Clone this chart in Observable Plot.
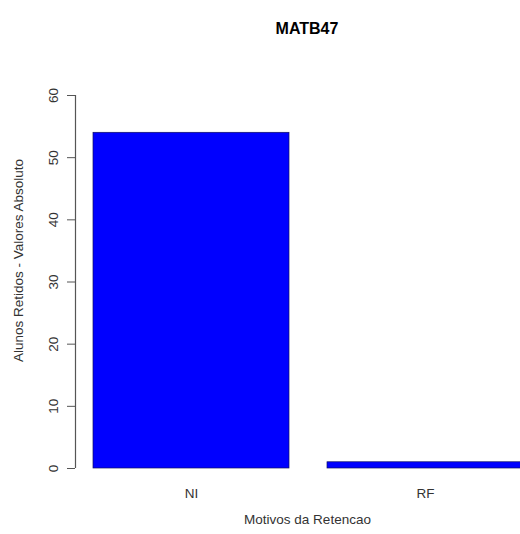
<!DOCTYPE html>
<html>
<head>
<meta charset="utf-8">
<script src="https://cdn.jsdelivr.net/npm/d3@7"></script>
<script src="https://cdn.jsdelivr.net/npm/@observablehq/plot@0.6"></script>
<style>
  html, body { margin: 0; padding: 0; background: #fff; overflow: hidden; }
</style>
</head>
<body>
<div id="chart"></div>
<script>
const title = "MATB47";
const categories = ["NI", "RF"];
const values = [54, 1];
const yTicks = [0, 10, 20, 30, 40, 50, 60];
const xLabel = "Motivos da Retencao";
const yLabel = "Alunos Retidos - Valores Absoluto";

const data = categories.map((c, i) => ({cat: c, value: values[i]}));
const font = "'Liberation Sans', Arial, Helvetica, sans-serif";

const W = 520, ML = 75, MR = 0;

const chart = Plot.plot({
  width: W,
  height: 534,
  marginTop: 95,
  marginBottom: 66,
  marginLeft: ML,
  marginRight: MR,
  style: {fontFamily: font, fontSize: "13.5px", color: "#333", background: "#fff", overflow: "hidden"},
  x: {type: "band", domain: categories, range: [93, 523], paddingInner: 0.1624, paddingOuter: 0, align: 0, axis: null},
  y: {domain: [0, 60], axis: null},
  marks: [
    Plot.barY(data, {x: "cat", y: "value", fill: "#0000ff", stroke: "#101060", strokeWidth: 0.7}),
    Plot.axisY({ticks: yTicks, tickSize: 8, tickPadding: 10, tickRotate: -90, stroke: "#555", fill: "#333", fontSize: 13.5, label: null}),
    Plot.axisX({tickSize: 0, tickPadding: 20, fill: "#333", fontSize: 13.5, label: null}),
    Plot.text([xLabel], {frameAnchor: "bottom", textAnchor: "middle", dx: 9.5, dy: 55, fill: "#333", fontSize: 13.5}),
    Plot.text([yLabel], {frameAnchor: "left", textAnchor: "middle", dx: -57, dy: -21.5, rotate: -90, fill: "#333", fontSize: 13.5}),
    Plot.text([title], {frameAnchor: "top", textAnchor: "middle", dx: 9, dy: -73, fill: "#000", fontSize: 16, fontWeight: "bold"}),
    // y axis line from first to last tick (a rule without x is centred; shift it to the left frame edge), drawn last
    Plot.ruleX([yTicks], {x: null, y1: d => d[0], y2: d => d[d.length - 1], dx: ML - (ML + W - MR) / 2, stroke: "#555", strokeWidth: 1.2})
  ]
});
document.getElementById("chart").appendChild(chart);
</script>
</body>
</html>
